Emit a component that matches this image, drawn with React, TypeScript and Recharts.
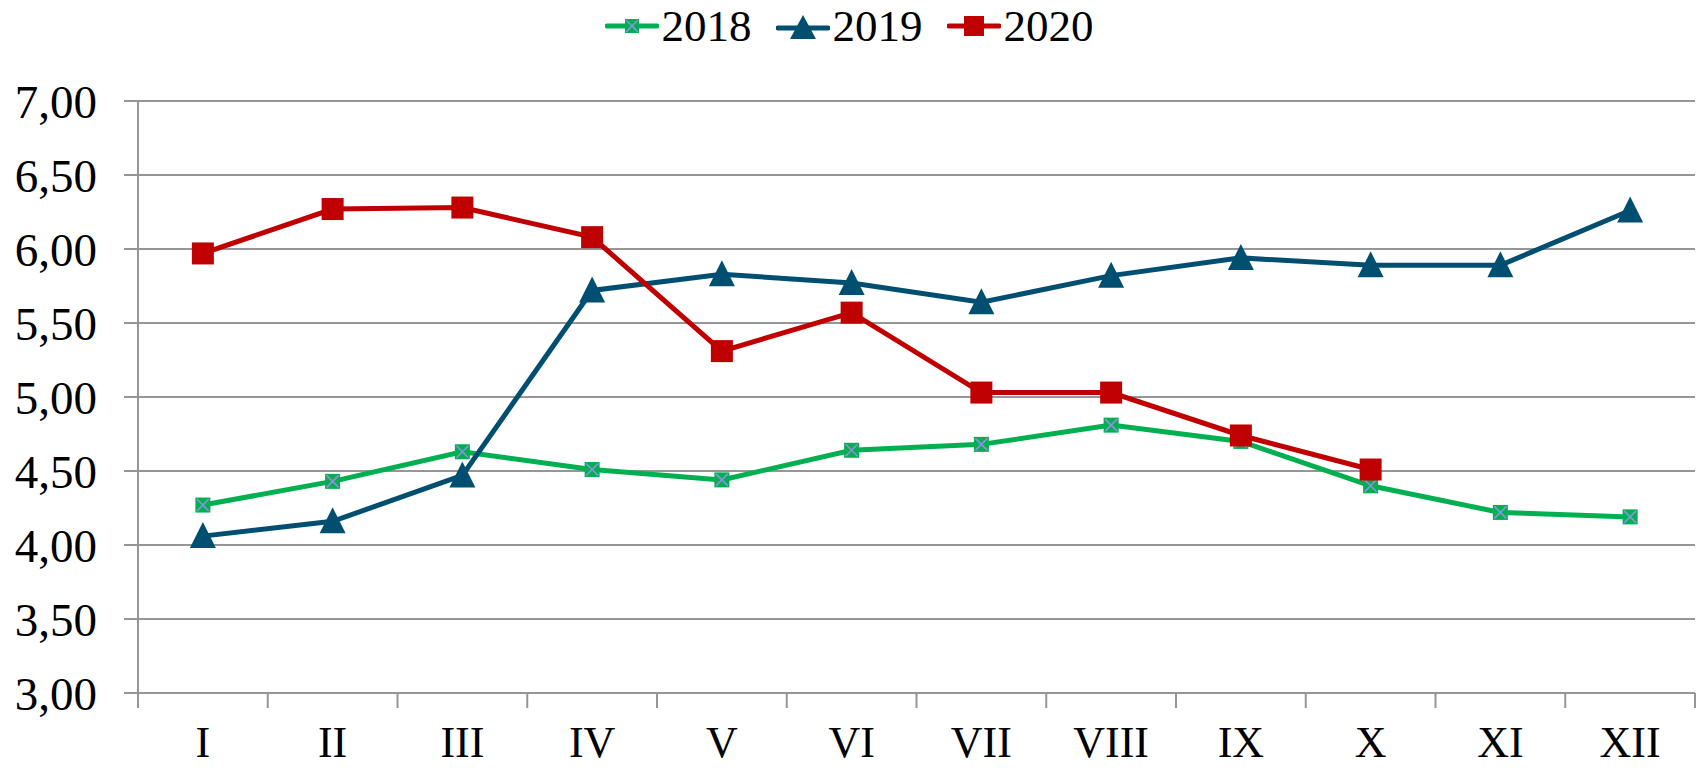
import { LineChart, Line, XAxis, YAxis, CartesianGrid, Legend } from 'recharts';

const months = ['I', 'II', 'III', 'IV', 'V', 'VI', 'VII', 'VIII', 'IX', 'X', 'XI', 'XII'];
const y2018 = [4.27, 4.43, 4.63, 4.51, 4.44, 4.64, 4.68, 4.81, 4.70, 4.40, 4.22, 4.19];
const y2019 = [4.06, 4.16, 4.47, 5.72, 5.83, 5.77, 5.64, 5.82, 5.94, 5.89, 5.89, 6.26];
const y2020: (number | null)[] = [5.97, 6.27, 6.28, 6.08, 5.31, 5.57, 5.03, 5.03, 4.74, 4.51, null, null];
const yTicks = [3, 3.5, 4, 4.5, 5, 5.5, 6, 6.5, 7];
const boundaryTicks = [0, 1, 2, 3, 4, 5, 6, 7, 8, 9, 10, 11, 12];
const labelTicks = months.map((_, i) => i + 0.5);

const GREEN = '#00B050';
const BLUE = '#004F71';
const RED = '#C00000';
const CROSS = '#8F8FE8';
const GRID = '#969696';
const FONT = '"Liberation Serif", "Times New Roman", serif';

const data = months.map((m, i) => ({
  x: i + 0.5,
  name: m,
  a: y2018[i],
  b: y2019[i],
  c: y2020[i],
}));

const CrossDot = (props: any) => {
  const { cx, cy, index } = props;
  if (cx == null || cy == null) return <g key={index} />;
  return (
    <g key={index}>
      <rect x={cx - 7.5} y={cy - 7.5} width={15} height={15} fill={GREEN} />
      <path d={`M${cx - 6},${cy - 6}L${cx + 6},${cy + 6}M${cx + 6},${cy - 6}L${cx - 6},${cy + 6}`} stroke={CROSS} strokeWidth={1.6} />
    </g>
  );
};

const TriDot = (props: any) => {
  const { cx, cy, index } = props;
  if (cx == null || cy == null) return <g key={index} />;
  return <path key={index} d={`M${cx},${cy - 14}L${cx + 13},${cy + 12}L${cx - 13},${cy + 12}Z`} fill={BLUE} />;
};

const SquareDot = (props: any) => {
  const { cx, cy, index, value } = props;
  if (cx == null || cy == null || value == null) return <g key={index} />;
  return <rect key={index} x={cx - 11} y={cy - 11} width={22} height={22} fill={RED} />;
};

const LegendIcon = ({ kind }: { kind: string }) => (
  <svg width={54} height={26} style={{ display: 'block' }}>
    {kind === 'a' && (
      <g>
        <line x1={2} y1={13} x2={52} y2={13} stroke={GREEN} strokeWidth={5} strokeLinecap="round" />
        <rect x={20} y={6} width={14} height={14} fill={GREEN} />
        <path d="M21,7L33,19M33,7L21,19" stroke={CROSS} strokeWidth={1.6} />
      </g>
    )}
    {kind === 'b' && (
      <g>
        <line x1={2} y1={15} x2={52} y2={15} stroke={BLUE} strokeWidth={5} strokeLinecap="round" />
        <path d="M27,2L40,26L14,26Z" fill={BLUE} />
      </g>
    )}
    {kind === 'c' && (
      <g>
        <line x1={2} y1={13} x2={52} y2={13} stroke={RED} strokeWidth={5} strokeLinecap="round" />
        <rect x={17} y={3} width={20} height={20} fill={RED} />
      </g>
    )}
  </svg>
);

const renderLegend = () => (
  <div style={{ display: 'flex', justifyContent: 'center', alignItems: 'center', height: 52, fontFamily: FONT, fontSize: 45, color: '#000' }}>
    {[['a', '2018'], ['b', '2019'], ['c', '2020']].map(([k, label]) => (
      <div key={k} style={{ display: 'flex', alignItems: 'center', margin: '0 12px' }}>
        <LegendIcon kind={k} />
        <span style={{ marginLeft: 3, lineHeight: '52px' }}>{label}</span>
      </div>
    ))}
  </div>
);

const fmt = (v: number) => v.toFixed(2).replace('.', ',');

export default function App() {
  return (
    <div style={{ position: 'absolute', left: 0, top: 0, width: 1698, height: 770, background: '#fff' }}>
      <LineChart width={1698} height={770} data={data} margin={{ top: 49, right: 3, bottom: 0, left: 0 }}>
        <CartesianGrid vertical={false} stroke={GRID} strokeWidth={2} />
        <Legend verticalAlign="top" content={renderLegend} wrapperStyle={{ top: 0, left: 0, width: 1698, height: 52 }} />
        <XAxis
          xAxisId={0}
          type="number"
          dataKey="x"
          domain={[0, 12]}
          allowDataOverflow
          ticks={boundaryTicks}
          interval={0}
          tickFormatter={() => ''}
          tickSize={15}
          height={15}
          axisLine={{ stroke: GRID, strokeWidth: 2 }}
          tickLine={{ stroke: GRID, strokeWidth: 2 }}
        />
        <XAxis
          xAxisId="lbl"
          type="number"
          dataKey="x"
          domain={[0, 12]}
          allowDataOverflow
          ticks={labelTicks}
          interval={0}
          tickFormatter={(v: number) => months[Math.round(v - 0.5)]}
          axisLine={false}
          tickLine={false}
          tickSize={0}
          tickMargin={18}
          height={62}
          tick={{ fill: '#000', fontSize: 44, fontFamily: FONT }}
        />
        <YAxis
          domain={[3, 7]}
          ticks={yTicks}
          interval={0}
          tickFormatter={fmt}
          width={138}
          tickSize={14}
          tickMargin={27}
          axisLine={{ stroke: GRID, strokeWidth: 2 }}
          tickLine={{ stroke: GRID, strokeWidth: 2 }}
          tick={{ fill: '#000', fontSize: 47, fontFamily: FONT }}
        />
        <Line dataKey="a" stroke={GREEN} strokeWidth={5} dot={CrossDot} activeDot={false} isAnimationActive={false} />
        <Line dataKey="b" stroke={BLUE} strokeWidth={5} dot={TriDot} activeDot={false} isAnimationActive={false} />
        <Line dataKey="c" stroke={RED} strokeWidth={5} dot={SquareDot} activeDot={false} isAnimationActive={false} />
      </LineChart>
    </div>
  );
}
